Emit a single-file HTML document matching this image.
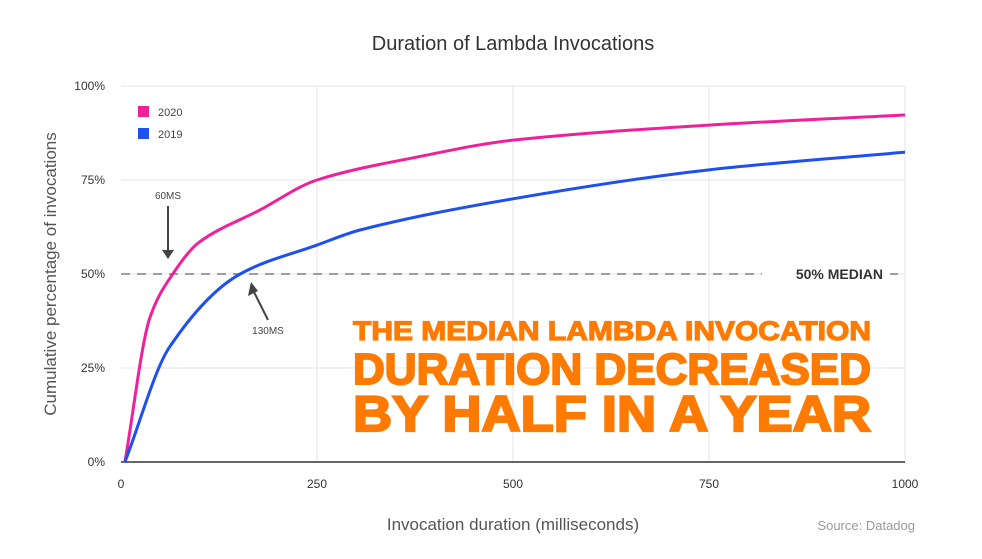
<!DOCTYPE html>
<html><head><meta charset="utf-8"><style>
body{margin:0;background:#fff;font-family:"Liberation Sans",sans-serif}
svg text{font-family:"Liberation Sans",sans-serif}
</style></head><body>
<svg id="chart" width="982" height="554" viewBox="0 0 982 554" xmlns="http://www.w3.org/2000/svg">
<rect width="982" height="554" fill="#fff"/>
<text x="513" y="50" text-anchor="middle" font-size="20" fill="#333">Duration of Lambda Invocations</text>
<g id="grid"></g>
<g id="ticks"></g>
<text transform="translate(56,274) rotate(-90)" text-anchor="middle" font-size="17" fill="#555">Cumulative percentage of invocations</text>
<text x="513" y="530" text-anchor="middle" font-size="17" fill="#555">Invocation duration (milliseconds)</text>
<text x="915" y="530" text-anchor="end" font-size="13" fill="#999">Source: Datadog</text>
<g id="series"></g>
<g>
<rect x="138" y="106" width="11" height="11" fill="#f0209a"/>
<text x="158" y="116" font-size="11" fill="#444">2020</text>
<rect x="138" y="128" width="11" height="11" fill="#1e50f0"/>
<text x="158" y="138" font-size="11" fill="#444">2019</text>
</g>
<g fill="#444">
<text x="168" y="199" text-anchor="middle" font-size="10">60MS</text>
<line x1="168" y1="206" x2="168" y2="252" stroke="#444" stroke-width="2"/>
<polygon points="162,250 174,250 168,259"/>
<text x="268" y="334" text-anchor="middle" font-size="10">130MS</text>
<line x1="268" y1="320" x2="253" y2="290" stroke="#444" stroke-width="2"/>
<polygon points="248,296 258,291 251,282"/>
<rect x="762" y="262" width="128" height="22" fill="#fff"/>
<text x="883" y="279" text-anchor="end" font-size="14" font-weight="bold" fill="#333">50% MEDIAN</text>
</g>
<g fill="#ff7a00" stroke="#ff7a00" font-weight="bold">
<text x="612" y="340" text-anchor="middle" font-size="27" stroke-width="1.2" textLength="518" lengthAdjust="spacingAndGlyphs">THE MEDIAN LAMBDA INVOCATION</text>
<text x="612" y="384" text-anchor="middle" font-size="44" stroke-width="2" textLength="518" lengthAdjust="spacingAndGlyphs">DURATION DECREASED</text>
<text x="612" y="431" text-anchor="middle" font-size="50" stroke-width="2.2" textLength="518" lengthAdjust="spacingAndGlyphs">BY HALF IN A YEAR</text>
</g>
</svg>
<script>
const xTicks=[0,250,500,750,1000];
const yTicks=[0,25,50,75,100];
const ms2020=[5,37,66,100,177,250,375,500,750,1000];
const pct2020=[0,38.5,50,58.5,67,75,81,85.6,89.6,92.3];
const ms2019=[5,62,152,250,305,500,750,1000];
const pct2019=[0,30.6,50,57.7,61.7,70,77.7,82.4];
const median=50;
const NS="http://www.w3.org/2000/svg";
const X=v=>121+v*0.784, Y=v=>462-v*3.76;
function mk(t,a,p){const e=document.createElementNS(NS,t);for(const k in a)e.setAttribute(k,a[k]);p.appendChild(e);return e;}
const grid=document.getElementById('grid'),ticks=document.getElementById('ticks'),series=document.getElementById('series');
yTicks.forEach(v=>{if(v>0){const l=mk('line',{x1:X(0),x2:X(1000),y1:Y(v),y2:Y(v),stroke:'#e6e6e6'},grid);

}
const t=mk('text',{x:105,y:Y(v)+4,'text-anchor':'end','font-size':12,fill:'#333'},ticks);t.textContent=v+'%';

});
xTicks.forEach(v=>{if(v>0){const l=mk('line',{x1:X(v),x2:X(v),y1:Y(100),y2:Y(0),stroke:'#e6e6e6'},grid);

}
const t=mk('text',{x:X(v),y:488,'text-anchor':'middle','font-size':12,fill:'#333'},ticks);t.textContent=v;

});
const ax=mk('line',{x1:X(0),x2:X(1000),y1:Y(0),y2:Y(0),stroke:'#666','stroke-width':2},grid);


const md=mk('line',{x1:X(0),x2:X(1000),y1:Y(median),y2:Y(median),stroke:'#666','stroke-width':1.2,'stroke-dasharray':'9,7'},grid);


function path(xs,ys){
const px=xs.map(X),py=ys.map(Y),n=px.length;
const d=[],m=new Array(n);
for(let i=0;i<n-1;i++)d.push((py[i+1]-py[i])/(px[i+1]-px[i]));
m[0]=d[0];m[n-1]=d[n-2];
for(let i=1;i<n-1;i++){m[i]=(d[i-1]*d[i]<=0)?0:2/(1/d[i-1]+1/d[i]);}
let s='M'+px[0]+','+py[0];
for(let i=0;i<n-1;i++){const h=(px[i+1]-px[i])/3;
s+='C'+(px[i]+h)+','+(py[i]+m[i]*h)+' '+(px[i+1]-h)+','+(py[i+1]-m[i+1]*h)+' '+px[i+1]+','+py[i+1];}
return s;}
const l20=mk('path',{d:path(ms2020,pct2020),fill:'none',stroke:'#f0209a','stroke-width':3},series);


const l19=mk('path',{d:path(ms2019,pct2019),fill:'none',stroke:'#1e50f0','stroke-width':3},series);


</script>
</body></html>
